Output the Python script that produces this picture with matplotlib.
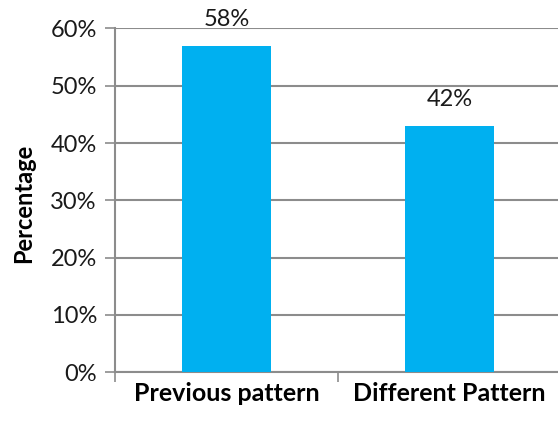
from matplotlib import pyplot as plt
import numpy as np

categories = ["Previous pattern", "Different Pattern"]
heights = [57, 43]
labels = ["58%", "42%"]
yticks = [0, 10, 20, 30, 40, 50, 60]

plt.rcParams['font.family'] = ['Lato', 'DejaVu Sans']

fig = plt.figure(figsize=(5.58, 4.24), dpi=100)
ax = fig.add_axes([0.206, 0.122, 0.799, 0.811])

x = np.arange(len(categories))
ax.bar(x, heights, width=0.4, color='#00B0F0', zorder=3)
for xi, h, lab in zip(x, heights, labels):
    ax.annotate(lab, (xi, h), xytext=(0, 26), textcoords='offset pixels',
                ha='center', va='center', fontsize=17, color='#1a1a1a')

ax.set_xlim(-0.5, 1.5)
ax.set_ylim(0, 60)
ax.set_yticks(yticks)
ax.set_yticklabels([f"{t}%" for t in yticks], fontsize=17, color='#1a1a1a')
ax.yaxis.grid(True, color='#8c8c8c', linewidth=1.5, zorder=0)

# category labels sit between boundary ticks
ax.set_xticks([-0.5, 0.5, 1.5])
ax.set_xticklabels([])
ax.set_xticks(x, minor=True)
ax.set_xticklabels(categories, minor=True, fontsize=18, fontweight='bold')
ax.tick_params(axis='x', which='minor', length=0, pad=7)
ax.tick_params(axis='x', which='major', length=7, color='#8c8c8c', width=1.2)
ax.tick_params(axis='y', length=7, color='#8c8c8c', width=1.2, pad=6)

for s in ['top', 'right']:
    ax.spines[s].set_visible(False)
for s in ['left', 'bottom']:
    ax.spines[s].set_color('#8c8c8c')
    ax.spines[s].set_linewidth(1.5)

ax.set_ylabel('Percentage', fontsize=17, fontweight='bold')
ax.yaxis.set_label_coords(-0.18, 0.49)

fig.savefig('out.png', dpi=100)
